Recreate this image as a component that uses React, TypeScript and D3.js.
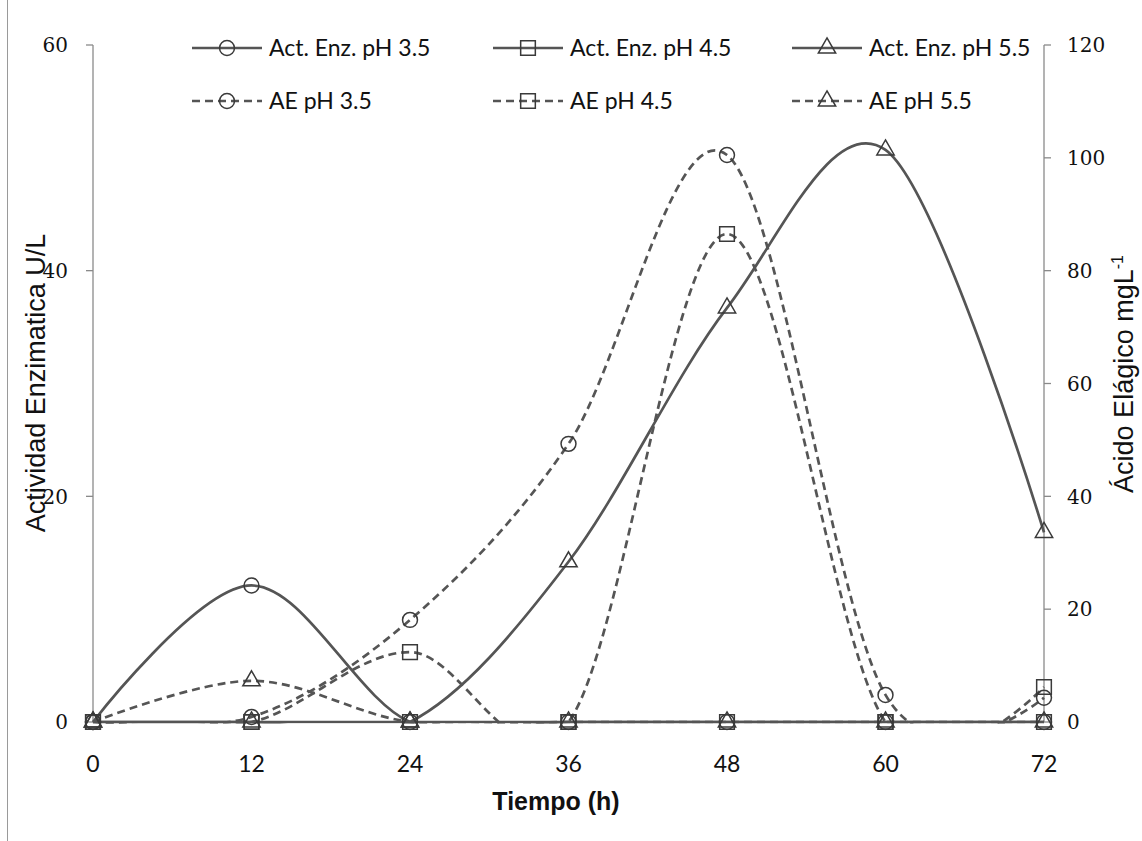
import React from "react";
import * as d3 from "d3";

const time = [0, 12, 24, 36, 48, 60, 72];
const actEnz35 = [0, 12.1, 0, 0, 0, 0, 0];
const actEnz45 = [0, 0, 0, 0, 0, 0, 0];
const actEnz55 = [0, 0, 0, 14.2, 36.7, 50.7, 16.8];
const ae35 = [0, 0.9, 18.1, 49.3, 100.5, 4.8, 4.3];
const ae45 = [0, 0, 12.4, 0, 86.5, 0, 6.2];
const ae55 = [0, 7.3, 0, 0, 0, 0, 0];

const xTicks = [0, 12, 24, 36, 48, 60, 72];
const leftTicks = [0, 20, 40, 60];
const rightTicks = [0, 20, 40, 60, 80, 100, 120];

type Shape = "circle" | "square" | "triangle";
const series: { name: string; values: number[]; axis: "left" | "right"; dashed: boolean; shape: Shape }[] = [
  { name: "Act. Enz. pH 3.5", values: actEnz35, axis: "left", dashed: false, shape: "circle" },
  { name: "Act. Enz. pH 4.5", values: actEnz45, axis: "left", dashed: false, shape: "square" },
  { name: "Act. Enz. pH 5.5", values: actEnz55, axis: "left", dashed: false, shape: "triangle" },
  { name: "AE pH 3.5", values: ae35, axis: "right", dashed: true, shape: "circle" },
  { name: "AE pH 4.5", values: ae45, axis: "right", dashed: true, shape: "square" },
  { name: "AE pH 5.5", values: ae55, axis: "right", dashed: true, shape: "triangle" },
];

const W = 1142, H = 841;
const plot = { left: 93, right: 1044, top: 45, bottom: 722 };
const LINE = "#555555";

const symbolPath = (shape: Shape) => {
  const t = shape === "circle" ? d3.symbolCircle : shape === "square" ? d3.symbolSquare : d3.symbolTriangle;
  const size = shape === "circle" ? 175 : shape === "square" ? 215 : 130;
  return d3.symbol().type(t).size(size)() as string;
};

export default function App() {
  const x = d3.scaleLinear().domain([0, 72]).range([plot.left, plot.right]);
  const yL = d3.scaleLinear().domain([0, 60]).range([plot.bottom, plot.top]);
  const yR = d3.scaleLinear().domain([0, 120]).range([plot.bottom, plot.top]);
  const y0 = plot.bottom;

  const tickFont = "'DejaVu Serif', 'Liberation Serif', serif";
  const sansFont = "Lato, 'Open Sans', sans-serif";
  const titleFont = "'Liberation Sans', Arial, sans-serif";

  const legendX = [192, 493, 792];
  const legendY = [48, 101];

  return (
    <svg width={W} height={H} style={{ position: "absolute", left: 0, top: 0, background: "#fff" }}>
      <defs>
        <clipPath id="clipPlot">
          <rect x={0} y={0} width={W} height={y0 + 1.5} />
        </clipPath>
      </defs>
      <rect x={0} y={0} width={W} height={H} fill="#fff" />
      <line x1={7.5} x2={7.5} y1={0} y2={H} stroke="#9a9a9a" strokeWidth={1} />

      {/* axes */}
      <line x1={plot.left} x2={plot.left} y1={plot.top} y2={plot.bottom} stroke="#8a8a8a" strokeWidth={1.3} />
      <line x1={plot.right} x2={plot.right} y1={plot.top} y2={plot.bottom} stroke="#8a8a8a" strokeWidth={1.3} />
      <line x1={plot.left} x2={plot.right} y1={plot.bottom} y2={plot.bottom} stroke="#8a8a8a" strokeWidth={1.3} />
      {leftTicks.map((t) => (
        <g key={"l" + t}>
          <line x1={plot.left - 7} x2={plot.left} y1={yL(t)} y2={yL(t)} stroke="#8a8a8a" strokeWidth={1.3} />
          <text x={68} y={yL(t)} dy="0.36em" textAnchor="end" fontFamily={tickFont} fontSize={20} fill="#111">
            {t}
          </text>
        </g>
      ))}
      {rightTicks.map((t) => (
        <g key={"r" + t}>
          <line x1={plot.right} x2={plot.right + 7} y1={yR(t)} y2={yR(t)} stroke="#8a8a8a" strokeWidth={1.3} />
          <text x={1067} y={yR(t)} dy="0.36em" textAnchor="start" fontFamily={tickFont} fontSize={20} fill="#111">
            {t}
          </text>
        </g>
      ))}
      {xTicks.map((t) => (
        <text key={"x" + t} x={x(t)} y={772} textAnchor="middle" fontFamily={sansFont} fontSize={23} fill="#111">
          {t}
        </text>
      ))}

      {/* axis titles */}
      <text x={556} y={810} textAnchor="middle" fontFamily={titleFont} fontWeight="bold" fontSize={25} fill="#111">
        Tiempo (h)
      </text>
      <text transform={`translate(45,${383}) rotate(-90)`} textAnchor="middle" fontFamily={titleFont} fontSize={27} fill="#111">
        Actividad Enzimatica U/L
      </text>
      <text transform={`translate(1133,${374}) rotate(-90)`} textAnchor="middle" fontFamily={titleFont} fontSize={27} fill="#111">
        Ácido Elágico mgL
        <tspan fontSize={16} dy={-10}>-1</tspan>
      </text>

      {/* series lines */}
      <g clipPath="url(#clipPlot)">
        {series.map((s) => {
          const y = s.axis === "left" ? yL : yR;
          const gen = d3
            .line<number>()
            .x((_, i) => x(time[i]))
            .y((v) => y(v))
            .curve(d3.curveCardinal.tension(0));
          return (
            <path
              key={s.name}
              d={gen(s.values) as string}
              fill="none"
              stroke={LINE}
              strokeWidth={2.7}
              strokeDasharray={s.dashed ? "8,5" : undefined}
            />
          );
        })}
      </g>
      {/* markers */}
      {series.map((s) => {
        const y = s.axis === "left" ? yL : yR;
        return (
          <g key={s.name + "m"}>
            {s.values.map((v, i) => (
              <path
                key={i}
                d={symbolPath(s.shape)}
                transform={`translate(${x(time[i])},${y(v)})`}
                fill="none"
                stroke="#3a3a3a"
                strokeWidth={1.5}
              />
            ))}
          </g>
        );
      })}

      {/* legend */}
      {series.map((s, i) => {
        const lx = legendX[i % 3];
        const ly = legendY[Math.floor(i / 3)];
        return (
          <g key={s.name + "leg"}>
            <line
              x1={lx}
              x2={lx + 70}
              y1={ly}
              y2={ly}
              stroke={LINE}
              strokeWidth={2.7}
              strokeDasharray={s.dashed ? "8,5" : undefined}
            />
            <path d={symbolPath(s.shape)} transform={`translate(${lx + 35},${ly})`} fill="none" stroke="#3a3a3a" strokeWidth={1.5} />
            <text x={lx + 77} y={ly} dy="0.36em" fontFamily={sansFont} fontSize={23} fill="#111">
              {s.name}
            </text>
          </g>
        );
      })}
    </svg>
  );
}
